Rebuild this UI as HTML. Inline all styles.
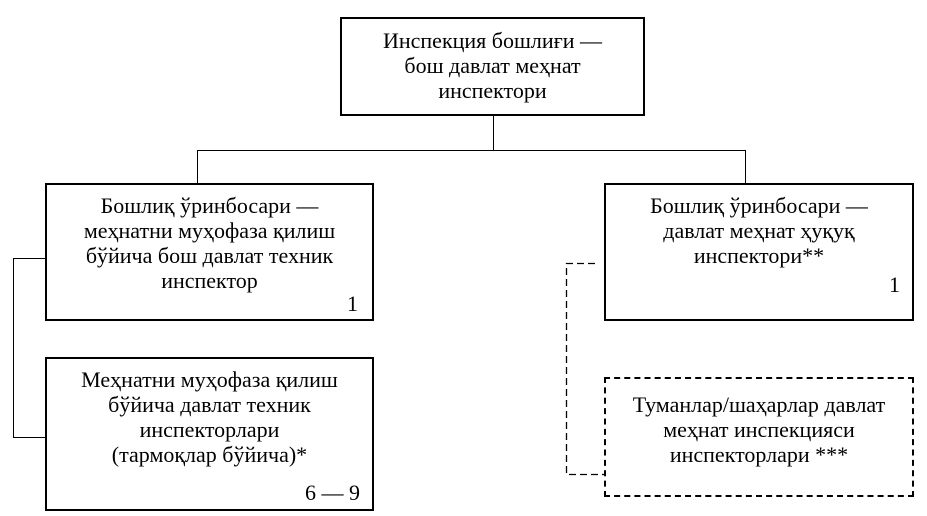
<!DOCTYPE html>
<html><head><meta charset="utf-8"><style>
body{margin:0;width:927px;height:516px;background:#fff;position:relative;overflow:hidden;font-family:"Liberation Serif",serif;font-size:22px;color:#000}
.b{position:absolute;border:2px solid #000;box-sizing:border-box;text-align:center;line-height:25px}
.n{position:absolute;right:12px;line-height:25px}
.l{position:absolute;background:#000}
</style></head><body>
<div class="b" style="left:340px;top:17px;width:305px;height:99px;padding-top:9px">Инспекция бошлиғи —<br>бош давлат меҳнат<br>инспектори</div>
<div class="b" style="left:45px;top:183px;width:329px;height:138px;padding-top:8px">Бошлиқ ўринбосари —<br>меҳнатни муҳофаза қилиш<br>бўйича бош давлат техник<br>инспектор<span class="n" style="right:14px;top:106px">1</span></div>
<div class="b" style="left:45px;top:357px;width:329px;height:154px;padding-top:8px">Меҳнатни муҳофаза қилиш<br>бўйича давлат техник<br>инспекторлари<br>(тармоқлар бўйича)*<span class="n" style="top:121px">6 — 9</span></div>
<div class="b" style="left:604px;top:183px;width:310px;height:138px;padding-top:8px">Бошлиқ ўринбосари —<br>давлат меҳнат ҳуқуқ<br>инспектори**<span class="n" style="top:87px">1</span></div>
<div class="b" style="left:604px;top:377px;width:310px;height:120px;border:2px dashed #000;padding-top:13px">Туманлар/шаҳарлар давлат<br>меҳнат инспекцияси<br>инспекторлари ***</div>
<div class="l" style="left:493px;top:116px;width:1px;height:35px"></div>
<div class="l" style="left:197px;top:150px;width:549px;height:1px"></div>
<div class="l" style="left:197px;top:150px;width:1px;height:33px"></div>
<div class="l" style="left:745px;top:150px;width:1px;height:33px"></div>
<div class="l" style="left:13px;top:258px;width:1px;height:180px"></div>
<div class="l" style="left:13px;top:258px;width:32px;height:1px"></div>
<div class="l" style="left:13px;top:437px;width:32px;height:1px"></div>
<svg style="position:absolute;left:0;top:0" width="927" height="516">
<path d="M595 263.5H566.5V474.5H604" fill="none" stroke="#000" stroke-width="1.3" stroke-dasharray="7,4"/>
</svg>
</body></html>
